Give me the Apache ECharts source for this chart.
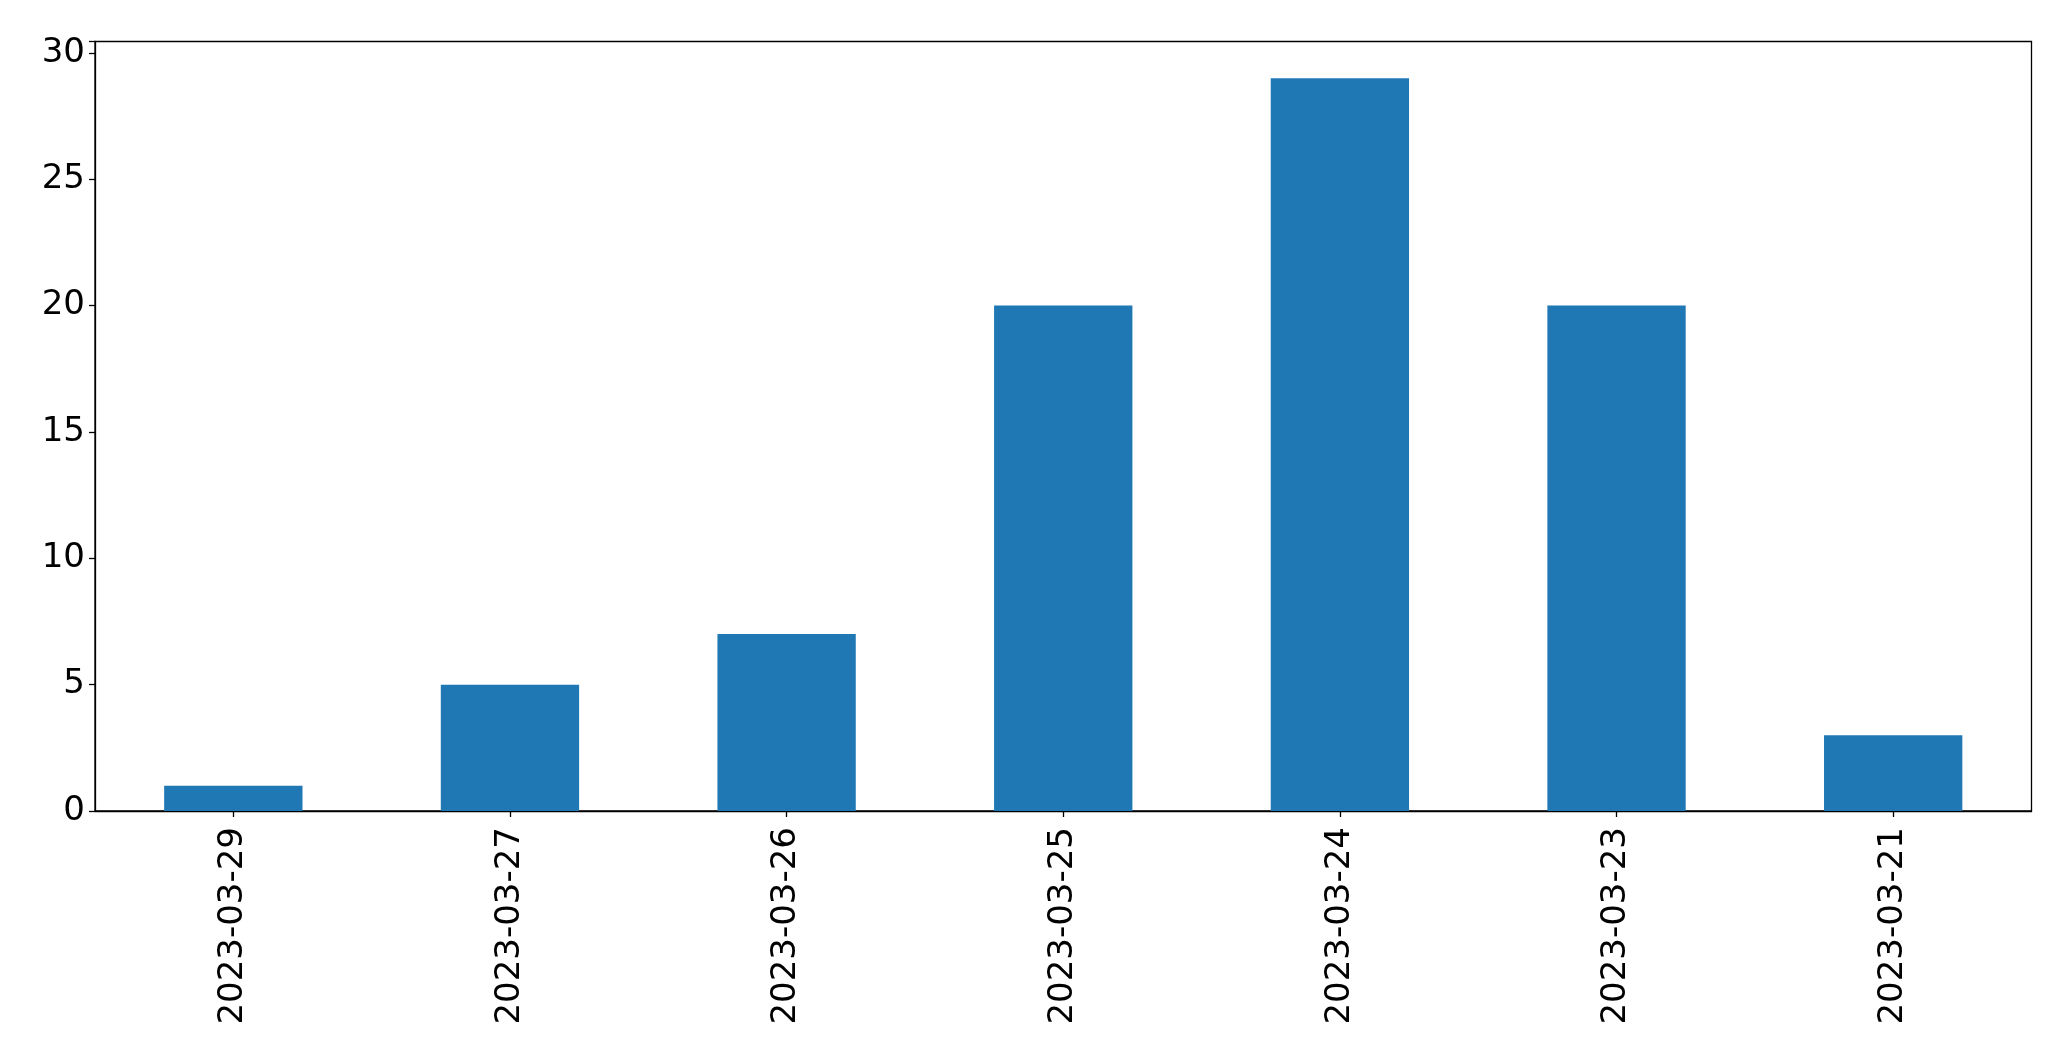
<!DOCTYPE html>
<html>
<head>
<meta charset="utf-8">
<script src="https://cdn.jsdelivr.net/npm/echarts@6/dist/echarts.min.js"></script>
<style>
html,body{margin:0;padding:0;background:#fff;}
#chart{width:2071px;height:1063px;}
</style>
</head>
<body>
<div id="chart"></div>
<script>
const categories = ['2023-03-29','2023-03-27','2023-03-26','2023-03-25','2023-03-24','2023-03-23','2023-03-21'];
const values = [1, 5, 7, 20, 29, 20, 3];
const yTicks = [0, 5, 10, 15, 20, 25, 30];

const chart = echarts.init(document.getElementById('chart'), null, {renderer: 'canvas'});
const font = 'DejaVu Sans';
chart.setOption({
  animation: false,
  backgroundColor: '#ffffff',
  grid: {
    left: 95, right: 39.5, top: 41.5, bottom: 252,
    show: true, borderColor: '#000', borderWidth: 1.3, backgroundColor: 'transparent',
    containLabel: false
  },
  xAxis: {
    type: 'category',
    data: categories,
    boundaryGap: true,
    axisLine: {show: true, lineStyle: {color: '#000', width: 1.3}},
    axisTick: {show: true, alignWithLabel: true, length: 6, lineStyle: {color: '#000', width: 1.3}},
    axisLabel: {rotate: 90, fontFamily: font, fontSize: 34, color: '#000', margin: 16, interval: 0},
    splitLine: {show: false}
  },
  yAxis: {
    type: 'value',
    min: 0,
    max: 30.45,
    interval: 5,
    axisLine: {show: true, lineStyle: {color: '#000', width: 1.3}},
    axisTick: {show: true, length: 6, lineStyle: {color: '#000', width: 1.3}},
    axisLabel: {
      fontFamily: font, fontSize: 34, color: '#000', margin: 10,
      formatter: function (v) { return yTicks.indexOf(v) >= 0 ? String(v) : ''; }
    },
    splitLine: {show: false}
  },
  series: [{
    type: 'bar',
    data: values,
    barWidth: '50%',
    itemStyle: {color: '#1f77b4'}
  }]
});
</script>
</body>
</html>
